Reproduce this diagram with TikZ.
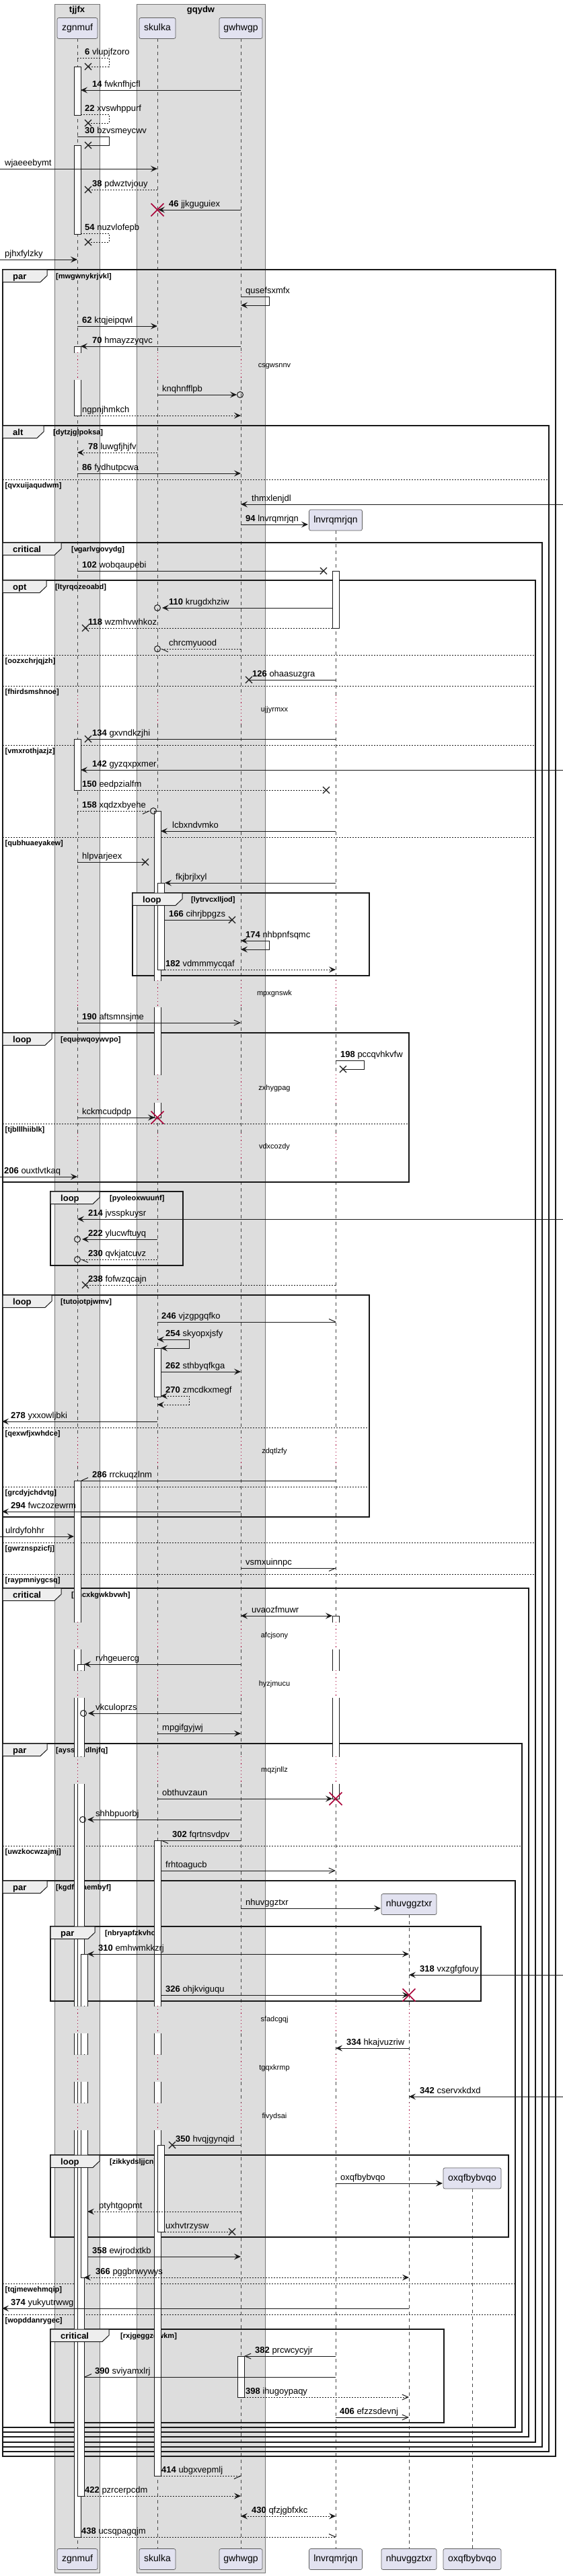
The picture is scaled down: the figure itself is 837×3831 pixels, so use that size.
\documentclass[tikz,border=0pt]{standalone}
\usepackage{fontspec}
\setmainfont{Liberation Sans}
\usetikzlibrary{arrows.meta}
\definecolor{boxbg}{HTML}{DDDDDD}
\definecolor{partbg}{HTML}{E2E2F0}
\definecolor{tabbg}{HTML}{EEEEEE}
\definecolor{dred}{HTML}{A80036}
\definecolor{ink}{HTML}{181818}
\tikzset{
  msg/.style={draw=ink,line width=1pt},
  dsh/.style={dash pattern=on 2pt off 2pt},
  fh/.style={-{Stealth[length=10pt,width=9pt,inset=4pt]}},
  oh/.style={-{Straight Barb[length=9pt,width=8pt]}},
  bh/.style={{Stealth[length=10pt,width=9pt,inset=4pt]}-{Stealth[length=10pt,width=9pt,inset=4pt]}},
  lbl/.style={anchor=base west,inner sep=0pt,font=\fontsize{13}{15}\selectfont},
  part/.style={draw=ink!70,line width=0.7pt,fill=partbg,rounded corners=2.5pt,inner sep=0pt,text height=10pt,text depth=3pt,minimum height=31pt,font=\fontsize{14}{16}\selectfont},
  grpbox/.style={draw=ink!60,fill=boxbg,line width=0.6pt},
  grptitle/.style={anchor=base,inner sep=0pt,font=\fontsize{13}{15}\selectfont\bfseries},
  lifest/.style={draw=ink!80,line width=0.6pt,dash pattern=on 5pt off 5pt},
  dly/.style={draw=dred,line width=0.9pt,dash pattern=on 1.2pt off 4pt},
  dlbl/.style={inner sep=0pt,font=\fontsize{11}{13}\selectfont},
  frm/.style={draw=ink,line width=1.5pt},
  tabst/.style={draw=ink,fill=tabbg,line width=1pt},
  kw/.style={anchor=base west,inner sep=0pt,font=\fontsize{13}{15}\selectfont\bfseries},
  cnd/.style={anchor=base west,inner sep=0pt,font=\fontsize{11}{13}\selectfont\bfseries},
  dvst/.style={draw=ink,line width=1pt,dash pattern=on 2pt off 2pt},
  actst/.style={draw=ink,line width=1pt,line cap=rect},
}
\newcommand\sqMsg[6]{\draw[msg,#1] (#2,#4) -- (#3,#4); \node[lbl] at (#6,#4-5) {#5};}
\newcommand\sqX[2]{\draw[msg,line width=1.3pt] (#1-5,#2-5) -- (#1+5,#2+5) (#1-5,#2+5) -- (#1+5,#2-5);}
\newcommand\sqDX[2]{\draw[draw=dred,line width=1.6pt] (#1-9.5,#2-9.5) -- (#1+9.5,#2+9.5) (#1-9.5,#2+9.5) -- (#1+9.5,#2-9.5);}
\newcommand\sqO[2]{\draw[msg] (#1,#2) circle[radius=4.5pt];}
\newcommand\sqH[4]{\draw[msg] (#1,#2) -- ++({#3*10},{#4*4.5});}
\newcommand\sqAct[5]{%
  \fill[white] (#1,#2) rectangle ({#1+10},#3);
  \draw[actst] (#1,#2) -- (#1,#3) ({#1+10},#2) -- ({#1+10},#3);
  \ifnum#4=1 \draw[actst] (#1,#2) -- ({#1+10},#2);\fi
  \ifnum#5=1 \draw[actst] (#1,#3) -- ({#1+10},#3);\fi}
\newcommand\sqGrp[6]{%
  \draw[frm] (#1,#2) rectangle (#3,#4);
  \node[cnd] at (#6,#2+13.5) {#5};}
\newcommand\sqTab[4]{%
  \draw[tabst] (#1,#2) -- (#3,#2) -- (#3,#2+9) -- (#3-10,#2+18.5) -- (#1,#2+18.5) -- cycle;
  \node[kw] at (#1+15,#2+14) {#4};}
\newcommand\sqDiv[4]{\draw[dvst] (#1,#3) -- (#2,#3); \node[cnd] at (#1+3.5,#3+12) {#4};}
\def\segA{57/524,565/1034,1077/1458,1498/1598,1640/1685,1727/2138,2180/2412,2453/2484,2525/2612,2653/2983,3024/3055,3096/3127,3168/3790}
\def\segL{789/1034,1077/1458,1498/1598,1640/1685,1727/2138,2180/2412,2453/2484,2525/2612,2653/2983,3024/3055,3096/3127,3168/3790}
\def\segN{2847/2983,3024/3055,3096/3127,3168/3790}
\begin{document}
\begin{tikzpicture}[x=1pt,y=-1pt]
\useasboundingbox (0,0) rectangle (837,3831);
% group boxes
\draw[grpbox] (81,6) rectangle (148,3826);
\draw[grpbox] (203,6) rectangle (394,3826);
\node[grptitle] (tjjfx) at (114.5,18) {tjjfx};
\node[grptitle] (gqydw) at (298.5,18) {gqydw};
% lifelines
\foreach \a/\b in \segA {\draw[lifest] (115,\a) -- (115,\b); \draw[lifest] (234,\a) -- (234,\b); \draw[lifest] (358,\a) -- (358,\b);}
\foreach \a/\b in \segL {\draw[lifest] (499,\a) -- (499,\b);}
\foreach \a/\b in \segN {\draw[lifest] (608,\a) -- (608,\b);}
\draw[lifest] (702,3255) -- (702,3790);
% delays
\foreach \a/\b/\t in {524/565/csgwsnnv,1034/1077/ujjyrmxx,1458/1498/mpxgnswk,1598/1640/zxhygpag,1685/1727/vdxcozdy,2138/2180/zdqtlzfy,2412/2453/afcjsony,2484/2525/hyzjmucu,2612/2653/mqzjnllz,2983/3024/sfadcgqj,3055/3096/tgqxkrmp,3127/3168/fivydsai}{
  \node[dlbl] at (408,{(\a+\b)/2}) {\t};
  \foreach \x in {115,234,358} {\draw[dly] (\x,\a) -- (\x,\b);}}
\foreach \a/\b in {1034/1077,1458/1498,1598/1640,1685/1727,2138/2180,2412/2453,2484/2525,2612/2653,2983/3024,3055/3096,3127/3168} {\draw[dly] (499,\a) -- (499,\b);}
\foreach \a/\b in {2983/3024,3055/3096,3127/3168} {\draw[dly] (608,\a) -- (608,\b);}
% participants
\node[part,minimum width=60pt] (zgT) at (115,42) {zgnmuf};
\node[part,minimum width=54pt] (skT) at (234,42) {skulka};
\node[part,minimum width=64pt] (gwT) at (358,42) {gwhwgp};
\node[part,minimum width=79pt] (lnT) at (499,773.5) {lnvrqmrjqn};
\node[part,minimum width=82pt] (nhT) at (608,2832) {nhuvggztxr};
\node[part,minimum width=86pt] (oxT) at (702,3239.5) {oxqfbybvqo};
\node[part,minimum width=60pt] (zgB) at (115,3806) {zgnmuf};
\node[part,minimum width=54pt] (skB) at (234,3806) {skulka};
\node[part,minimum width=64pt] (gwB) at (358,3806) {gwhwgp};
\node[part,minimum width=79pt] (lnB) at (499,3806) {lnvrqmrjqn};
\node[part,minimum width=82pt] (nhB) at (608,3806) {nhuvggztxr};
\node[part,minimum width=86pt] (oxB) at (702,3806) {oxqfbybvqo};
% frames
\sqGrp{4}{401}{826}{3653}{[mwgwnykrjvkl]}{83}
\sqGrp{4}{633}{816}{3646}{[dytzjglpoksa]}{79}
\sqDiv{4}{816}{713}{[qvxuijaqudwm]}
\sqGrp{4}{807}{806}{3639}{[vgarlvgovydg]}{106}
\sqGrp{4}{863}{796}{3632}{[ltyrqozeoabd]}{82}
\sqDiv{4}{796}{974}{[oozxchrjqjzh]}
\sqDiv{4}{796}{1020}{[fhirdsmshnoe]}
\sqDiv{4}{796}{1108}{[vmxrothjazjz]}
\sqDiv{4}{796}{1245}{[qubhuaeyakew]}
\sqGrp{197}{1328}{549}{1451}{[lytrvcxlljod]}{284}
\sqGrp{4}{1536}{608}{1758}{[equewqoywvpo]}{90}
\sqDiv{4}{608}{1671}{[tjblllhiiblk]}
\sqGrp{75}{1772}{272}{1882}{[pyoleoxwuunf]}{163}
\sqGrp{4}{1926}{549}{2256}{[tutoiotpjwmv]}{90}
\sqDiv{4}{549}{2123}{[qexwfjxwhdce]}
\sqDiv{4}{549}{2211}{[grcdyjchdvtg]}
\sqDiv{4}{796}{2294}{[gwrznspzicfj]}
\sqDiv{4}{796}{2341}{[raypmniygcsq]}
\sqGrp{4}{2362}{786}{3624}{[zncxkgwkbvwh]}{106}
\sqGrp{4}{2593}{776}{3617}{[aysswhdlnjfq]}{83}
\sqDiv{4}{776}{2745}{[uwzkocwzajmj]}
\sqGrp{4}{2797}{766}{3610}{[kgdfvdaembyf]}{83}
\sqGrp{75}{2865}{715}{2976}{[nbryapfzkvho]}{156}
\sqGrp{75}{3205}{756}{3327}{[zikkydsljjcn]}{163}
\sqDiv{4}{766}{3396}{[tqjmewehmqip]}
\sqDiv{4}{766}{3442}{[wopddanrygec]}
\sqGrp{75}{3464}{660}{3603}{[rxjgeggzqwkm]}{179}
% activations zgnmuf
\sqAct{110}{99}{171}{1}{1}
\sqAct{110}{216}{348}{1}{1}
\sqAct{110}{515}{524}{1}{0}
\sqAct{110}{565}{618}{0}{1}
\sqAct{110}{1099}{1175}{1}{1}
\sqAct{110}{2202}{2412}{1}{0}
\sqAct{110}{2453}{2484}{0}{0}
\sqAct{110}{2525}{2612}{0}{0}
\sqAct{110}{2653}{2983}{0}{0}
\sqAct{110}{3024}{3055}{0}{0}
\sqAct{110}{3096}{3127}{0}{0}
\sqAct{110}{3168}{3773}{0}{1}
\sqAct{115}{2475}{2484}{1}{0}
\sqAct{115}{2525}{2612}{0}{0}
\sqAct{115}{2653}{2983}{0}{0}
\sqAct{115}{3024}{3055}{0}{0}
\sqAct{115}{3096}{3127}{0}{0}
\sqAct{115}{3168}{3712}{0}{1}
\sqAct{120}{2906}{2983}{1}{0}
\sqAct{120}{3024}{3055}{0}{0}
\sqAct{120}{3096}{3127}{0}{0}
\sqAct{120}{3168}{3387}{0}{1}
% activations skulka
\sqAct{229}{1206}{1458}{1}{0}
\sqAct{229}{1498}{1598}{0}{0}
\sqAct{229}{1640}{1662}{0}{1}
\sqAct{234}{1313}{1442}{1}{1}
\sqAct{229}{2005}{2077}{1}{1}
\sqAct{229}{2737}{2983}{1}{0}
\sqAct{229}{3024}{3055}{0}{0}
\sqAct{229}{3096}{3127}{0}{0}
\sqAct{229}{3168}{3682}{0}{1}
\sqAct{234}{3190}{3319}{1}{1}
% activations gwhwgp, lnvrqmrjqn
\sqAct{353}{3504}{3565}{1}{1}
\sqAct{494}{849}{934}{1}{1}
\sqAct{494}{2403}{2412}{1}{0}
\sqAct{494}{2453}{2484}{0}{0}
\sqAct{494}{2525}{2612}{0}{0}
\sqAct{494}{2653}{2675}{0}{1}
% frame tabs (over activations)
\sqTab{4}{401}{70}{par}
\sqTab{4}{633}{65}{alt}
\sqTab{4}{807}{91}{critical}
\sqTab{4}{863}{69}{opt}
\sqTab{197}{1328}{271}{loop}
\sqTab{4}{1536}{77}{loop}
\sqTab{75}{1772}{148}{loop}
\sqTab{4}{1926}{77}{loop}
\sqTab{4}{2362}{91}{critical}
\sqTab{4}{2593}{70}{par}
\sqTab{4}{2797}{70}{par}
\sqTab{75}{2865}{141}{par}
\sqTab{75}{3205}{148}{loop}
\sqTab{75}{3464}{162}{critical}
% messages
\draw[msg,dsh] (115,86) -| (162,99) -- (131,99); \sqX{131}{99}
\node[lbl] at (126,81) {\textbf{6} vlupjfzoro};
\sqMsg{fh}{358}{120}{134}{\textbf{14} fwknfhjcfl}{137}
\draw[msg,dsh] (120,170) -| (162,183) -- (131,183); \sqX{131}{183}
\node[lbl] at (126,165) {\textbf{22} xvswhppurf};
\draw[msg] (115,203) -| (162,216) -- (131,216); \sqX{131}{216}
\node[lbl] at (126,198) {\textbf{30} bzvsmeycwv};
\sqMsg{fh}{0}{234}{251}{wjaeeebymt}{7}
\sqMsg{dsh}{234}{131}{282}{\textbf{38} pdwztvjouy}{137} \sqX{131}{282}
\sqMsg{fh}{358}{235}{312}{\textbf{46} jjkguguiex}{251} \sqDX{234}{312}
\draw[msg,dsh] (120,347) -| (162,360) -- (131,360); \sqX{131}{360}
\node[lbl] at (126,342) {\textbf{54} nuzvlofepb};
\sqMsg{fh}{0}{115}{386}{pjhxfylzky}{7}
\draw[msg,fh] (358,441) -| (400,454) -- (358,454);
\node[lbl] at (365,436) {qusefsxmfx};
\sqMsg{fh}{115}{234}{485}{\textbf{62} ktqjeipqwl}{122}
\sqMsg{fh}{358}{120}{515}{\textbf{70} hmayzzyqvc}{137}
\sqMsg{fh}{234}{352}{587}{knqhnfflpb}{241} \sqO{357}{587}
\sqMsg{dsh,fh}{120}{358}{618}{ngpnjhmkch}{122}
\sqMsg{dsh,fh}{234}{115}{673}{\textbf{78} luwgfjhjfv}{131}
\sqMsg{fh}{115}{358}{704}{\textbf{86} fydhutpcwa}{122}
\sqMsg{fh}{837}{358}{750}{thmxlenjdl}{374}
\sqMsg{fh}{358}{458}{780}{\textbf{94} lnvrqmrjqn}{365}
\sqMsg{}{115}{481}{849}{\textbf{102} wobqaupebi}{122} \sqX{481}{849}
\sqMsg{fh}{494}{241}{904}{\textbf{110} krugdxhziw}{251} \sqO{234}{904}
\sqMsg{dsh}{494}{127}{934}{\textbf{118} wzmhvwhkoz}{131} \sqX{127}{934}
\sqMsg{dsh}{358}{240}{965}{chrcmyuood}{251} \sqO{234}{965} \sqH{240}{965}{1}{1}
\sqMsg{}{499}{370}{1011}{\textbf{126} ohaasuzgra}{375} \sqX{370}{1011}
\sqMsg{}{499}{131}{1099}{\textbf{134} gxvndkzjhi}{137} \sqX{131}{1099}
\sqMsg{fh}{837}{120}{1145}{\textbf{142} gyzqxpxmer}{137}
\sqMsg{dsh}{120}{485}{1175}{\textbf{150} eedpzialfm}{122} \sqX{485}{1175}
\sqMsg{dsh}{115}{222}{1206}{\textbf{158} xqdzxbyehe}{122} \sqO{228}{1206} \sqH{222}{1206}{-1}{1}
\sqMsg{fh}{499}{239}{1236}{lcbxndvmko}{256}
\sqMsg{}{115}{216}{1282}{hlpvarjeex}{122} \sqX{216}{1282}
\sqMsg{fh}{499}{245}{1313}{fkjbrjlxyl}{261}
\sqMsg{}{245}{345}{1368}{\textbf{166} cihrjbpgzs}{251} \sqX{345}{1368}
\draw[msg,bh] (358,1399) -| (400,1412) -- (358,1412);
\node[lbl] at (365,1394) {\textbf{174} nhbpnfsqmc};
\sqMsg{dsh,fh}{245}{499}{1442}{\textbf{182} vdmmmycqaf}{246}
\sqMsg{oh}{115}{358}{1521}{\textbf{190} aftsmnsjme}{122}
\draw[msg] (499,1577) -| (541,1590) -- (510,1590); \sqX{510}{1590}
\node[lbl] at (506,1572) {\textbf{198} pccqvhkvfw};
\sqMsg{fh}{115}{230}{1662}{kckmcudpdp}{122} \sqDX{234}{1662}
\sqMsg{fh}{0}{115}{1750}{\textbf{206} ouxtlvtkaq}{6}
\sqMsg{fh}{837}{115}{1813}{\textbf{214} jvsspkuysr}{131}
\sqMsg{fh}{234}{122}{1843}{\textbf{222} ylucwftuyq}{131} \sqO{115}{1843}
\sqMsg{dsh}{234}{121}{1873}{\textbf{230} qvkjatcuvz}{131} \sqO{115}{1873} \sqH{121}{1873}{1}{1}
\sqMsg{dsh}{499}{127}{1911}{\textbf{238} fofwzqcajn}{131} \sqX{127}{1911}
\sqMsg{}{234}{499}{1966}{\textbf{246} vjzgpgqfko}{240} \sqH{499}{1966}{-1}{-1}
\draw[msg,bh] (234,1992) -| (281,2005) -- (239,2005);
\node[lbl] at (246,1987) {\textbf{254} skyopxjsfy};
\sqMsg{fh}{239}{358}{2040}{\textbf{262} sthbyqfkga}{246}
\draw[msg,dsh,bh] (239,2076) -| (281,2089) -- (234,2089);
\node[lbl] at (246,2071) {\textbf{270} zmcdkxmegf};
\sqMsg{fh}{234}{3}{2114}{\textbf{278} yxxowljbki}{16}
\sqMsg{}{499}{121}{2202}{\textbf{286} rrckuqzlnm}{137} \sqH{121}{2202}{1}{-1}
\sqMsg{fh}{358}{3}{2248}{\textbf{294} fwczozewrm}{16}
\sqMsg{fh}{0}{110}{2285}{ulrdyfohhr}{8}
\sqMsg{}{358}{499}{2332}{vsmxuinnpc}{365} \sqH{499}{2332}{-1}{1}
\sqMsg{bh}{358}{494}{2403}{uvaozfmuwr}{374}
\sqMsg{fh}{358}{125}{2475}{rvhgeuercg}{142}
\sqMsg{fh}{358}{131}{2548}{vkculoprzs}{142} \sqO{124}{2548}
\sqMsg{fh}{234}{358}{2578}{mpgifgyjwj}{241}
\sqMsg{fh}{234}{494}{2675}{obthuvzaun}{241} \sqDX{499}{2675}
\sqMsg{fh}{358}{130}{2706}{shhbpuorbj}{142} \sqO{123}{2706}
\sqMsg{}{358}{240}{2737}{\textbf{302} fqrtnsvdpv}{256} \sqH{240}{2737}{1}{1}
\sqMsg{oh}{239}{499}{2782}{frhtoagucb}{246}
\sqMsg{fh}{358}{566}{2838}{nhuvggztxr}{365}
\sqMsg{bh}{130}{608}{2906}{\textbf{310} emhwmkkzrj}{146}
\sqMsg{fh}{837}{608}{2937}{\textbf{318} vxzgfgfouy}{624}
\sqMsg{fh}{239}{608}{2967}{\textbf{326} ohjkviguqu}{246} \sqDX{608}{2967}
\sqMsg{fh}{608}{499}{3046}{\textbf{334} hkajvuzriw}{515}
\sqMsg{fh}{837}{608}{3118}{\textbf{342} cservxkdxd}{624}
\sqMsg{}{358}{256}{3190}{\textbf{350} hvqjgynqid}{261} \sqX{256}{3190}
\sqMsg{fh}{499}{658}{3247}{oxqfbybvqo}{506}
\sqMsg{dsh,fh}{358}{130}{3289}{ptyhtgopmt}{147}
\sqMsg{dsh}{245}{345}{3319}{uxhvtrzysw}{246} \sqX{345}{3319}
\sqMsg{fh}{130}{358}{3356}{\textbf{358} ewjrodxtkb}{137}
\sqMsg{dsh,bh}{125}{608}{3387}{\textbf{366} pggbnwywys}{142}
\sqMsg{fh}{608}{3}{3433}{\textbf{374} yukyutrwwg}{16}
\sqMsg{oh}{499}{363}{3504}{\textbf{382} prcwcycyjr}{379}
\sqMsg{}{499}{126}{3535}{\textbf{390} sviyamxlrj}{141} \sqH{126}{3535}{1}{-1}
\sqMsg{dsh,oh}{363}{608}{3565}{\textbf{398} ihugoypaqy}{365}
\sqMsg{oh}{499}{608}{3595}{\textbf{406} efzzsdevnj}{505}
\sqMsg{dsh}{239}{358}{3682}{\textbf{414} ubgxvepmlj}{240} \sqH{358}{3682}{-1}{1}
\sqMsg{dsh,fh}{125}{358}{3712}{\textbf{422} pzrcerpcdm}{126}
\sqMsg{dsh,bh}{358}{499}{3742}{\textbf{430} qfzjgbfxkc}{374}
\sqMsg{dsh}{120}{499}{3773}{\textbf{438} ucsqpagqjm}{121} \sqH{499}{3773}{-1}{-1}
\end{tikzpicture}
\end{document}
